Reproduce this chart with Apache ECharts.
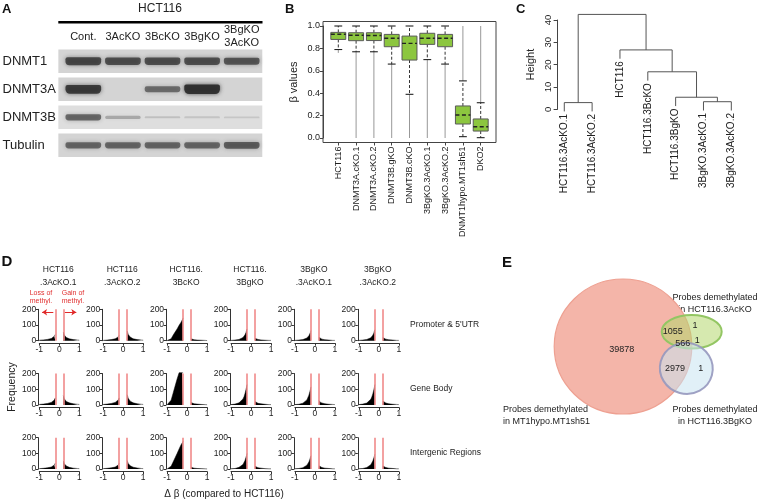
<!DOCTYPE html>
<html><head><meta charset="utf-8">
<script src="https://cdn.jsdelivr.net/npm/echarts@6/dist/echarts.min.js"></script>
<style>html,body{margin:0;padding:0;background:#fff}#c{width:758px;height:501px}</style>
</head><body><div id="c"></div>
<script>
const FONT = "'Liberation Sans', Arial, Helvetica, sans-serif";

// ---------- Panel A: western blot (relative band intensities) ----------
const blotLanes = ['Cont.', '3AcKO', '3BcKO', '3BgKO', '3BgKO\n3AcKO'];
const blotProteins = ['DNMT1', 'DNMT3A', 'DNMT3B', 'Tubulin'];
const bandDNMT1 = [0.8, 0.75, 0.75, 0.75, 0.7];
const bandDNMT3A = [0.9, 0, 0.55, 1.0, 0];
const bandDNMT3B = [0.6, 0.22, 0.08, 0.05, 0.04];
const bandTubulin = [0.6, 0.6, 0.6, 0.6, 0.65];

// ---------- Panel B: beta value boxplots ----------
const boxCategories = ['HCT116', 'DNMT3A.cKO.1', 'DNMT3A.cKO.2', 'DNMT3B.gKO', 'DNMT3B.cKO',
  '3BgKO.3AcKO.1', '3BgKO.3AcKO.2', 'DNMT1hypo.MT1sh51', 'DKO2'];
const boxLowerWhisker = [0.79, 0.77, 0.77, 0.66, 0.39, 0.70, 0.66, 0.012, 0.003];
const boxQ1 = [0.88, 0.869, 0.87, 0.815, 0.696, 0.836, 0.815, 0.125, 0.062];
const boxMedian = [0.926, 0.917, 0.915, 0.89, 0.845, 0.89, 0.89, 0.205, 0.10];
const boxQ3 = [0.943, 0.94, 0.94, 0.925, 0.91, 0.935, 0.925, 0.286, 0.17];
const boxUpperWhisker = [1, 1, 1, 1, 1, 1, 1, 0.51, 0.315];
const outlierMin = [0.76, 0, 0, 0, 0, 0, 0, 0.51, 0.315];
const outlierMax = [0.79, 0.77, 0.77, 0.66, 0.39, 0.70, 0.66, 1.0, 1.0];

// ---------- Panel C: hierarchical clustering ----------
const dendroLeaves = ['HCT116.3AcKO.1', 'HCT116.3AcKO.2', 'HCT116', 'HCT116.3BcKO',
  'HCT116.3BgKO', '3BgKO.3AcKO.1', '3BgKO.3AcKO.2'];
const dendroMerges = [[-1, -2], [-6, -7], [-5, 2], [-4, 3], [-3, 4], [1, 5]];
const dendroHeights = [3.0, 3.4, 5.4, 16.8, 26.6, 42.5];

// ---------- Panel D: delta-beta histograms ----------
const histSamples = ['HCT116\n.3AcKO.1', 'HCT116\n.3AcKO.2', 'HCT116.\n3BcKO', 'HCT116.\n3BgKO', '3BgKO\n.3AcKO.1', '3BgKO\n.3AcKO.2'];
const histRegions = ["Promoter & 5'UTR", 'Gene Body', 'Intergenic Regions'];
const histThreshold = 0.2;
const histLeftX = [-1, -0.9, -0.8, -0.7, -0.6, -0.5, -0.4, -0.35, -0.3, -0.25, -0.22, -0.2];
const histRightX = [0.2, 0.22, 0.25, 0.3, 0.35, 0.4, 0.5, 0.6, 0.7, 0.8, 0.9, 1.0];
const promoterLeft = [
  [3, 4, 5, 6, 8, 10, 14, 17, 21, 28, 34, 40],
  [2, 3, 4, 5, 7, 9, 12, 15, 19, 24, 29, 35],
  [1, 3, 12, 35, 55, 75, 98, 108, 118, 130, 138, 145],
  [2, 3, 4, 6, 8, 12, 20, 27, 38, 52, 63, 75],
  [2, 3, 4, 5, 7, 10, 17, 23, 32, 44, 54, 65],
  [2, 3, 4, 5, 8, 11, 18, 25, 35, 48, 58, 70]];
const promoterRight = [
  [55, 45, 36, 27, 21, 17, 12, 9, 7, 5, 4, 3],
  [62, 50, 40, 30, 23, 18, 12, 9, 7, 5, 4, 3],
  [12, 10, 8, 7, 6, 5, 4, 3, 3, 2, 2, 1],
  [15, 13, 11, 9, 8, 7, 5, 4, 3, 3, 2, 2],
  [22, 18, 15, 12, 10, 8, 6, 5, 4, 3, 2, 2],
  [20, 17, 14, 12, 10, 8, 6, 5, 4, 3, 2, 2]];
const geneBodyLeft = [
  [3, 4, 5, 7, 9, 12, 16, 19, 24, 31, 38, 45],
  [3, 4, 5, 7, 9, 12, 16, 19, 24, 31, 38, 45],
  [1, 4, 30, 75, 120, 165, 205, 205, 205, 205, 205, 205],
  [2, 3, 5, 8, 13, 22, 38, 52, 72, 98, 115, 130],
  [2, 3, 4, 7, 11, 18, 32, 44, 62, 85, 100, 115],
  [2, 3, 5, 8, 12, 20, 36, 50, 70, 95, 112, 130]];
const geneBodyRight = [
  [60, 49, 39, 29, 22, 18, 13, 10, 7, 5, 4, 3],
  [65, 53, 42, 31, 24, 19, 13, 10, 7, 5, 4, 3],
  [15, 12, 10, 8, 7, 6, 5, 4, 3, 3, 2, 1],
  [22, 18, 15, 12, 10, 9, 7, 5, 4, 3, 2, 2],
  [28, 22, 18, 14, 12, 10, 7, 6, 4, 3, 3, 2],
  [25, 20, 17, 14, 12, 10, 7, 6, 4, 3, 3, 2]];
const intergenicLeft = [
  [3, 4, 5, 6, 8, 10, 13, 16, 20, 26, 32, 38],
  [3, 4, 5, 6, 8, 10, 13, 16, 20, 26, 32, 38],
  [1, 4, 18, 45, 72, 100, 128, 142, 155, 166, 172, 178],
  [2, 3, 4, 7, 11, 17, 30, 40, 55, 75, 88, 100],
  [2, 3, 4, 6, 9, 14, 25, 33, 46, 63, 75, 85],
  [2, 3, 4, 6, 10, 16, 28, 37, 52, 70, 83, 95]];
const intergenicRight = [
  [52, 42, 34, 26, 20, 16, 11, 8, 6, 5, 4, 3],
  [55, 45, 36, 27, 21, 17, 12, 9, 7, 5, 4, 3],
  [12, 10, 8, 7, 6, 5, 4, 3, 3, 2, 2, 1],
  [18, 15, 12, 10, 9, 8, 6, 4, 3, 3, 2, 2],
  [22, 18, 15, 12, 10, 8, 6, 5, 4, 3, 2, 2],
  [20, 17, 14, 12, 10, 8, 6, 5, 4, 3, 2, 2]];

// ---------- Panel E: Venn diagram ----------
const vennSetLabels = ['Probes demethylated\nin MT1hypo.MT1sh51', 'Probes demethylated\nin HCT116.3AcKO', 'Probes demethylated\nin HCT116.3BgKO'];
const vennRegions = ['MT1 only', 'MT1 & 3AcKO', '3AcKO only', 'all three', '3AcKO & 3BgKO', 'MT1 & 3BgKO', '3BgKO only'];
const vennCounts = [39878, 1055, 1, 566, 1, 2979, 1];

// ================= layout (positions / sizes / styles) =================
const vennShapes = [ // cx, cy, rx, ry, rotation (layout units of panel E)
  [133, 96.5, 68.8, 67.5, 0],
  [196.3, 118.3, 26.5, 25.5, -15],
  [201.7, 81.7, 30, 16.7, 0]];
const vennShapeOrder = [0, 2, 1];
const vennStyles = [
  {fill: '#f4b5a9', stroke: '#eea091', lineWidth: 1.2},
  {fill: 'rgba(200,228,240,0.55)', stroke: 'rgba(150,152,190,0.9)', lineWidth: 2},
  {fill: 'rgba(180,215,110,0.55)', stroke: '#93c663', lineWidth: 2}];
const vennLabelPos = [[131.7, 99.3], [182.7, 81.7], [205, 76], [192.7, 94], [207.3, 90.7], [185, 118.3], [210.7, 118.3]];

const grids = [], xAxes = [], yAxes = [], series = [], graphics = [];
const lab = (o) => Object.assign({fontFamily: FONT, color: '#222'}, o);

// ---- A
grids.push({left: 63.5, top: 47.3, width: 198, height: 112});
xAxes.push({gridIndex: 0, type: 'category', data: blotLanes, position: 'top',
  axisLine: {show: false}, axisTick: {show: false}, splitLine: {show: false},
  axisLabel: lab({interval: 0, fontSize: 11, margin: 10.6, verticalAlign: 'middle', lineHeight: 12.5})});
yAxes.push({gridIndex: 0, type: 'category', data: blotProteins, inverse: true,
  axisLine: {show: false}, axisTick: {show: false}, splitLine: {show: false},
  axisLabel: lab({interval: 0, fontSize: 13, align: 'left', margin: 61})});
series.push({type: 'custom', xAxisIndex: 0, yAxisIndex: 0, silent: true,
  data: blotProteins.map((p, i) => [0, i]), encode: {x: 0, y: 1},
  renderItem(params, api) {
    const y = api.value(1);
    const p0 = api.coord([0, y]);
    const p4 = api.coord([blotLanes.length - 1, y]);
    const s = api.size([1, 1]);
    const h = s[1] * 0.84;
    return {type: 'rect', shape: {x: p0[0] - s[0] * 0.63, y: p0[1] - h / 2, width: p4[0] - p0[0] + s[0] * 1.15, height: h},
      style: {fill: y === 2 ? '#dedede' : '#d4d4d4'}};
  }});
const bandData = [];
[bandDNMT1, bandDNMT3A, bandDNMT3B, bandTubulin].forEach((arr, pi) => arr.forEach((v, li) => bandData.push([li, pi, v])));
series.push({type: 'custom', xAxisIndex: 0, yAxisIndex: 0, silent: true, data: bandData, encode: {x: 0, y: 1},
  renderItem(params, api) {
    const v = api.value(2);
    if (!v) return null;
    const c = api.coord([api.value(0), api.value(1)]);
    const s = api.size([1, 1]);
    const w = s[0] * 0.9, h = 1.5 + 8 * v;
    return {type: 'rect', shape: {x: c[0] - w / 2, y: c[1] - h / 2, width: w, height: h, r: [2, 2, h / 2, h / 2]},
      style: {fill: 'rgba(45,45,45,' + (0.1 + 0.85 * v) + ')', shadowBlur: 4, shadowColor: 'rgba(45,45,45,' + (0.8 * v) + ')'}};
  }});
graphics.push({type: 'line', shape: {x1: 58.3, y1: 22.3, x2: 262.5, y2: 22.3}, style: {stroke: '#000', lineWidth: 2.5}});
graphics.push({type: 'text', x: 160, y: 8.5, style: {text: 'HCT116', font: '12px ' + FONT, fill: '#222', align: 'center', verticalAlign: 'middle'}});

// ---- B
grids.push({left: 329.4, top: 26, width: 160.2, height: 112});
grids.push({left: 323, top: 21.5, width: 173, height: 121, show: true, borderColor: '#444', borderWidth: 1, backgroundColor: 'rgba(0,0,0,0)'});
xAxes.push({gridIndex: 1, type: 'category', data: boxCategories, offset: 4.5,
  axisLine: {show: false, onZero: false}, axisTick: {show: true, alignWithLabel: true, length: 3, lineStyle: {color: '#444'}},
  splitLine: {show: false}, axisLabel: lab({interval: 0, rotate: 90, fontSize: 9, margin: 4})});
yAxes.push({gridIndex: 1, type: 'value', min: 0, max: 1, interval: 0.2, offset: 6.4,
  axisLine: {show: true, onZero: false, lineStyle: {color: '#444'}}, axisTick: {show: true, length: 3, lineStyle: {color: '#444'}},
  splitLine: {show: false}, axisLabel: lab({fontSize: 9, margin: 3, formatter: v => v.toFixed(1)}),
  name: 'β values', nameLocation: 'middle', nameGap: 24, nameRotate: 90, nameTextStyle: lab({fontSize: 11})});
series.push({type: 'custom', xAxisIndex: 1, yAxisIndex: 1, silent: true, encode: {x: 0, y: [1, 5]},
  data: boxCategories.map((c, i) => [i, boxLowerWhisker[i], boxQ1[i], boxMedian[i], boxQ3[i], boxUpperWhisker[i], outlierMin[i], outlierMax[i]]),
  renderItem(params, api) {
    const i = api.value(0);
    const bw = api.size([1, 0])[0];
    const cx = api.coord([i, 0])[0];
    const Y = v => api.coord([i, v])[1];
    const half = bw * 0.42, sh = bw * 0.22;
    const ch = [];
    const oMin = api.value(6), oMax = api.value(7);
    if (!isNaN(oMin) && !isNaN(oMax)) ch.push({type: 'line', shape: {x1: cx, y1: Y(oMin), x2: cx, y2: Y(oMax)}, style: {stroke: '#8c8c8c', lineWidth: 0.9}});
    const dash = {stroke: '#333', lineWidth: 1, lineDash: [3, 2]};
    ch.push({type: 'line', shape: {x1: cx, y1: Y(api.value(4)), x2: cx, y2: Y(api.value(5))}, style: dash});
    ch.push({type: 'line', shape: {x1: cx, y1: Y(api.value(2)), x2: cx, y2: Y(api.value(1))}, style: dash});
    [1, 5].forEach(k => ch.push({type: 'line', shape: {x1: cx - sh, y1: Y(api.value(k)), x2: cx + sh, y2: Y(api.value(k))}, style: {stroke: '#222', lineWidth: 1.1}}));
    const yt = Y(api.value(4)), yb = Y(api.value(2));
    ch.push({type: 'rect', shape: {x: cx - half, y: yt, width: 2 * half, height: yb - yt}, style: {fill: '#8cc63f', stroke: '#5a5a5a', lineWidth: 1}});
    const ym = Y(api.value(3));
    ch.push({type: 'line', shape: {x1: cx - half, y1: ym, x2: cx + half, y2: ym}, style: {stroke: '#222', lineWidth: 1.4, lineDash: [4, 2.5]}});
    return {type: 'group', children: ch};
  }});

// ---- C
grids.push({left: 557.6, top: 20, width: 180.4, height: 89.3});
xAxes.push({gridIndex: 3, type: 'value', min: 0.76, max: 7.24, show: false, axisLine: {onZero: false}});
yAxes.push({gridIndex: 3, type: 'value', min: 0, max: 40, interval: 10,
  axisLine: {show: true, onZero: false, lineStyle: {color: '#444'}}, axisTick: {show: true, length: 4, lineStyle: {color: '#444'}},
  splitLine: {show: false}, axisLabel: lab({fontSize: 9.5, rotate: 90, margin: 4}),
  name: 'Height', nameLocation: 'middle', nameGap: 21, nameRotate: 90, nameTextStyle: lab({fontSize: 11})});
const hang = 0.1 * (Math.max(...dendroHeights) - Math.min(...dendroHeights));
const nodeX = [], leafEnd = [];
const childInfo = (ref, h) => ref < 0 ? (leafEnd[-ref - 1] = h - hang, {x: -ref, y: h - hang}) : {x: nodeX[ref - 1], y: dendroHeights[ref - 1]};
const dendroData = dendroMerges.map((m, k) => {
  const a = childInfo(m[0], dendroHeights[k]), b = childInfo(m[1], dendroHeights[k]);
  nodeX[k] = (a.x + b.x) / 2;
  return [a.x, a.y, b.x, b.y, dendroHeights[k]];
});
series.push({type: 'custom', xAxisIndex: 2, yAxisIndex: 2, silent: true, data: dendroData, encode: {x: [0, 2], y: [1, 3, 4]},
  renderItem(params, api) {
    const h = api.value(4);
    const pts = [api.coord([api.value(0), api.value(1)]), api.coord([api.value(0), h]), api.coord([api.value(2), h]), api.coord([api.value(2), api.value(3)])];
    return {type: 'polyline', shape: {points: pts}, style: {stroke: '#555', lineWidth: 1, fill: null}};
  }});
series.push({type: 'custom', xAxisIndex: 2, yAxisIndex: 2, silent: true, encode: {x: 0, y: 1},
  data: dendroLeaves.map((n, i) => [i + 1, leafEnd[i], i]),
  renderItem(params, api) {
    const p = api.coord([api.value(0), api.value(1)]);
    return {type: 'text', x: p[0], y: p[1] + 2.5, rotation: Math.PI / 2,
      style: {text: dendroLeaves[api.value(2)], align: 'right', verticalAlign: 'middle', font: '10px ' + FONT, fill: '#222'}};
  }});

// ---- D
const histL = [promoterLeft, geneBodyLeft, intergenicLeft];
const histR = [promoterRight, geneBodyRight, intergenicRight];
const D_LEFT = 39.3, D_DX = 63.9, D_TOP = 309.3, D_DY = 64.2, D_W = 40, D_H = 31.4;
for (let r = 0; r < 3; r++) {
  for (let c = 0; c < 6; c++) {
    const gi = grids.length, ai = xAxes.length;
    grids.push({left: D_LEFT + D_DX * c, top: D_TOP + D_DY * r, width: D_W, height: D_H});
    xAxes.push({gridIndex: gi, type: 'value', min: -1, max: 1, interval: 1, offset: 2.5,
      axisLine: {show: true, onZero: false, lineStyle: {color: '#333'}}, axisTick: {show: true, length: 2.5, lineStyle: {color: '#333'}},
      splitLine: {show: false}, axisLabel: lab({fontSize: 8.5, margin: 2})});
    yAxes.push({gridIndex: gi, type: 'value', min: 0, max: 200, interval: 100, offset: 1,
      axisLine: {show: true, onZero: false, lineStyle: {color: '#333'}}, axisTick: {show: true, length: 2.5, lineStyle: {color: '#333'}},
      splitLine: {show: false}, axisLabel: lab({fontSize: 8.5, margin: 2})});
    const common = {type: 'line', xAxisIndex: ai, yAxisIndex: ai, symbol: 'none', silent: true, clip: false,
      lineStyle: {color: '#000', width: 0.5}, areaStyle: {color: '#000', opacity: 1}};
    series.push(Object.assign({}, common, {data: histLeftX.map((x, i) => [x, histL[r][c][i]]),
      markLine: {silent: true, symbol: ['none', 'none'], label: {show: false}, animation: false,
        lineStyle: {color: '#f08a8a', width: 1.6, type: 'solid'},
        data: [{xAxis: -histThreshold}, {xAxis: histThreshold}]}}));
    const right = Object.assign({}, common, {data: histRightX.map((x, i) => [x, histR[r][c][i]])});
    if (r === 0 && c === 0) {
      right.markLine = {silent: true, symbol: ['none', 'arrow'], symbolSize: 5, label: {show: false}, animation: false,
        lineStyle: {color: '#e02828', width: 1, type: 'solid'},
        data: [[{coord: [-0.3, 181]}, {coord: [-0.86, 181]}], [{coord: [0.28, 181]}, {coord: [0.85, 181]}]]};
    }
    series.push(right);
  }
}
histSamples.forEach((s, c) => graphics.push({type: 'text', x: D_LEFT + D_DX * c + D_W / 2 - 1, y: 276.5,
  style: {text: s, font: '8.5px ' + FONT, lineHeight: 13, fill: '#222', align: 'center', verticalAlign: 'middle'}}));
histRegions.forEach((s, r) => graphics.push({type: 'text', x: 410, y: D_TOP + D_DY * r + 15,
  style: {text: s, font: '8.5px ' + FONT, fill: '#222', align: 'left', verticalAlign: 'middle'}}));
graphics.push({type: 'text', x: 41, y: 297, style: {text: 'Loss of\nmethyl.', font: '7px ' + FONT, lineHeight: 7.6, fill: '#e03030', align: 'center', verticalAlign: 'middle'}});
graphics.push({type: 'text', x: 73, y: 297, style: {text: 'Gain of\nmethyl.', font: '7px ' + FONT, lineHeight: 7.6, fill: '#e03030', align: 'center', verticalAlign: 'middle'}});
graphics.push({type: 'text', x: 11.7, y: 387, rotation: Math.PI / 2, style: {text: 'Frequency', font: '10.5px ' + FONT, fill: '#222', align: 'center', verticalAlign: 'middle'}});
graphics.push({type: 'text', x: 224, y: 494, style: {text: 'Δ β (compared to HCT116)', font: '10px ' + FONT, fill: '#222', align: 'center', verticalAlign: 'middle'}});

// ---- E
const ge = grids.length, ae = xAxes.length;
grids.push({left: 490, top: 250, width: 268, height: 200});
xAxes.push({gridIndex: ge, type: 'value', min: 0, max: 268, show: false});
yAxes.push({gridIndex: ge, type: 'value', min: 0, max: 200, inverse: true, show: false});
series.push({type: 'custom', xAxisIndex: ae, yAxisIndex: ae, silent: true, encode: {x: 0, y: 1},
  data: vennShapeOrder.map(k => vennShapes[k].concat([k])),
  renderItem(params, api) {
    const c = api.coord([api.value(0), api.value(1)]);
    const s = api.size([api.value(2), api.value(3)]);
    const st = vennStyles[api.value(5)];
    return {type: 'ellipse', x: c[0], y: c[1], rotation: api.value(4) * Math.PI / 180,
      shape: {cx: 0, cy: 0, rx: Math.abs(s[0]), ry: Math.abs(s[1])}, style: Object.assign({}, st)};
  }});
series.push({type: 'custom', xAxisIndex: ae, yAxisIndex: ae, silent: true, encode: {x: 0, y: 1},
  data: vennCounts.map((v, i) => vennLabelPos[i].concat([v])),
  renderItem(params, api) {
    const c = api.coord([api.value(0), api.value(1)]);
    return {type: 'text', x: c[0], y: c[1], style: {text: String(api.value(2)), font: '9px ' + FONT, fill: '#222', align: 'center', verticalAlign: 'middle'}};
  }});
graphics.push({type: 'text', x: 503, y: 415.5, style: {text: vennSetLabels[0], font: '9px ' + FONT, lineHeight: 11.5, fill: '#222', align: 'left', verticalAlign: 'middle'}});
graphics.push({type: 'text', x: 715, y: 303.3, style: {text: vennSetLabels[1], font: '9px ' + FONT, lineHeight: 11.5, fill: '#222', align: 'center', verticalAlign: 'middle'}});
graphics.push({type: 'text', x: 715, y: 415.5, style: {text: vennSetLabels[2], font: '9px ' + FONT, lineHeight: 11.5, fill: '#222', align: 'center', verticalAlign: 'middle'}});

// ---- panel letters
[['A', 2, 3, 13], ['B', 285, 3, 13], ['C', 516, 3, 13], ['D', 1.5, 254, 15], ['E', 502, 255, 15]].forEach(l =>
  graphics.push({type: 'text', x: l[1], y: l[2], style: {text: l[0], font: 'bold ' + l[3] + 'px ' + FONT, fill: '#111', align: 'left', verticalAlign: 'top'}}));

grids.forEach(g => { g.outerBoundsMode = 'none'; g.containLabel = false; });

const chart = echarts.init(document.getElementById('c'), null, {renderer: 'canvas', width: 758, height: 501});
chart.setOption({
  animation: false,
  backgroundColor: '#fff',
  textStyle: {fontFamily: FONT},
  grid: grids, xAxis: xAxes, yAxis: yAxes, series: series,
  graphic: {elements: graphics}
});
</script></body></html>
